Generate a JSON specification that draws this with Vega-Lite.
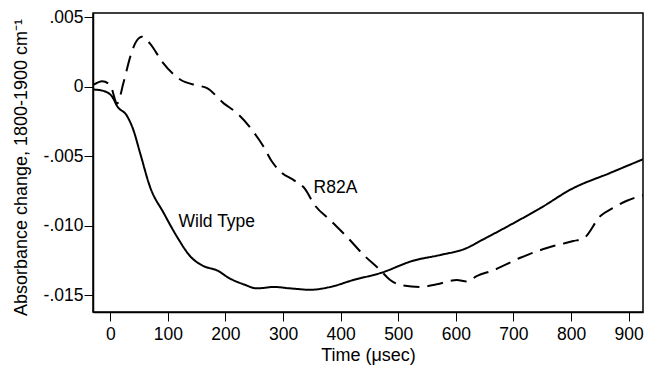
{
  "$schema": "https://vega.github.io/schema/vega-lite/v6.json",
  "autosize": "none",
  "width": 550,
  "height": 299,
  "padding": {"left": 93, "top": 13, "right": 2, "bottom": 55},
  "background": "white",
  "config": {
    "font": "Liberation Sans",
    "view": {"stroke": "black", "strokeWidth": 1.5},
    "axis": {"grid": false, "domainColor": "black", "tickColor": "black", "labelColor": "black", "titleColor": "black", "labelFont": "Liberation Sans", "titleFont": "Liberation Sans", "labelFontSize": 17.5, "titleFontSize": 18, "titleFontWeight": "normal", "tickSize": 9, "domainWidth": 1.5, "tickWidth": 1}
  },
  "datasets": {
    "curves": [
      {"t": -29, "a": -0.0002, "s": "Wild Type"},
      {"t": -12, "a": -0.0003, "s": "Wild Type"},
      {"t": 3, "a": -0.0007, "s": "Wild Type"},
      {"t": 12, "a": -0.0014, "s": "Wild Type"},
      {"t": 29, "a": -0.0021, "s": "Wild Type"},
      {"t": 40, "a": -0.0031, "s": "Wild Type"},
      {"t": 52, "a": -0.0048, "s": "Wild Type"},
      {"t": 69, "a": -0.0072, "s": "Wild Type"},
      {"t": 93, "a": -0.0091, "s": "Wild Type"},
      {"t": 116, "a": -0.0108, "s": "Wild Type"},
      {"t": 139, "a": -0.0122, "s": "Wild Type"},
      {"t": 162, "a": -0.0129, "s": "Wild Type"},
      {"t": 185, "a": -0.0132, "s": "Wild Type"},
      {"t": 208, "a": -0.0138, "s": "Wild Type"},
      {"t": 231, "a": -0.0142, "s": "Wild Type"},
      {"t": 255, "a": -0.0145, "s": "Wild Type"},
      {"t": 284, "a": -0.0144, "s": "Wild Type"},
      {"t": 312, "a": -0.0145, "s": "Wild Type"},
      {"t": 347, "a": -0.0146, "s": "Wild Type"},
      {"t": 382, "a": -0.0144, "s": "Wild Type"},
      {"t": 422, "a": -0.0139, "s": "Wild Type"},
      {"t": 469, "a": -0.0134, "s": "Wild Type"},
      {"t": 527, "a": -0.0125, "s": "Wild Type"},
      {"t": 573, "a": -0.0121, "s": "Wild Type"},
      {"t": 619, "a": -0.0116, "s": "Wild Type"},
      {"t": 642, "a": -0.0111, "s": "Wild Type"},
      {"t": 683, "a": -0.0102, "s": "Wild Type"},
      {"t": 752, "a": -0.0086, "s": "Wild Type"},
      {"t": 799, "a": -0.0074, "s": "Wild Type"},
      {"t": 868, "a": -0.0062, "s": "Wild Type"},
      {"t": 926, "a": -0.0052, "s": "Wild Type"},
      {"t": -29, "a": 0.00014, "s": "R82A"},
      {"t": -14, "a": 0.0004, "s": "R82A"},
      {"t": 0, "a": 0.0001, "s": "R82A"},
      {"t": 12, "a": -0.0012, "s": "R82A"},
      {"t": 23, "a": 0.0003, "s": "R82A"},
      {"t": 35, "a": 0.0022, "s": "R82A"},
      {"t": 43, "a": 0.0031, "s": "R82A"},
      {"t": 55, "a": 0.0036, "s": "R82A"},
      {"t": 69, "a": 0.0031, "s": "R82A"},
      {"t": 90, "a": 0.0018, "s": "R82A"},
      {"t": 122, "a": 0.0005, "s": "R82A"},
      {"t": 150, "a": 0.0001, "s": "R82A"},
      {"t": 168, "a": -0.0001, "s": "R82A"},
      {"t": 197, "a": -0.0012, "s": "R82A"},
      {"t": 220, "a": -0.0019, "s": "R82A"},
      {"t": 246, "a": -0.0031, "s": "R82A"},
      {"t": 266, "a": -0.0043, "s": "R82A"},
      {"t": 281, "a": -0.0054, "s": "R82A"},
      {"t": 298, "a": -0.0062, "s": "R82A"},
      {"t": 318, "a": -0.0067, "s": "R82A"},
      {"t": 339, "a": -0.0074, "s": "R82A"},
      {"t": 353, "a": -0.0084, "s": "R82A"},
      {"t": 382, "a": -0.0096, "s": "R82A"},
      {"t": 411, "a": -0.0108, "s": "R82A"},
      {"t": 440, "a": -0.0121, "s": "R82A"},
      {"t": 469, "a": -0.0132, "s": "R82A"},
      {"t": 486, "a": -0.0139, "s": "R82A"},
      {"t": 509, "a": -0.0143, "s": "R82A"},
      {"t": 538, "a": -0.0144, "s": "R82A"},
      {"t": 567, "a": -0.0142, "s": "R82A"},
      {"t": 602, "a": -0.0139, "s": "R82A"},
      {"t": 619, "a": -0.0140, "s": "R82A"},
      {"t": 637, "a": -0.0136, "s": "R82A"},
      {"t": 665, "a": -0.0132, "s": "R82A"},
      {"t": 712, "a": -0.0123, "s": "R82A"},
      {"t": 758, "a": -0.0116, "s": "R82A"},
      {"t": 804, "a": -0.0111, "s": "R82A"},
      {"t": 822, "a": -0.0109, "s": "R82A"},
      {"t": 851, "a": -0.0093, "s": "R82A"},
      {"t": 874, "a": -0.0087, "s": "R82A"},
      {"t": 897, "a": -0.0082, "s": "R82A"},
      {"t": 926, "a": -0.0078, "s": "R82A"}
    ],
    "labels": [
      {"t": 185, "a": -0.0097, "label": "Wild Type"},
      {"t": 391, "a": -0.0073, "label": "R82A"}
    ]
  },
  "layer": [
    {
      "data": {"name": "curves"},
      "mark": {"type": "line", "color": "black", "strokeWidth": 2, "clip": true, "interpolate": "monotone"},
      "encoding": {
        "x": {"field": "t", "type": "quantitative", "scale": {"domain": [-30, 925], "nice": false, "zero": false}, "axis": {"title": "Time (μsec)", "values": [0, 100, 200, 300, 400, 500, 600, 700, 800, 900], "labelPadding": 4, "titlePadding": 4}},
        "y": {"field": "a", "type": "quantitative", "scale": {"domain": [-0.0162, 0.0053], "nice": false, "zero": false}, "axis": {"title": "Absorbance change, 1800-1900 cm⁻¹", "values": [-0.015, -0.01, -0.005, 0, 0.005], "labelExpr": "datum.value == 0 ? '0' : datum.value == 0.005 ? '.005' : datum.value == -0.005 ? '-.005' : datum.value == -0.01 ? '-.010' : '-.015'", "labelPadding": 1, "titlePadding": 13, "titleY": 154}},
        "detail": {"field": "s"},
        "strokeDash": {"field": "s", "type": "nominal", "scale": {"domain": ["Wild Type", "R82A"], "range": [[1, 0], [16, 8]]}, "legend": null}
      }
    },
    {
      "data": {"name": "labels"},
      "mark": {"type": "text", "font": "Liberation Sans", "fontSize": 17.5, "color": "black"},
      "encoding": {
        "x": {"field": "t", "type": "quantitative"},
        "y": {"field": "a", "type": "quantitative"},
        "text": {"field": "label"}
      }
    }
  ]
}
